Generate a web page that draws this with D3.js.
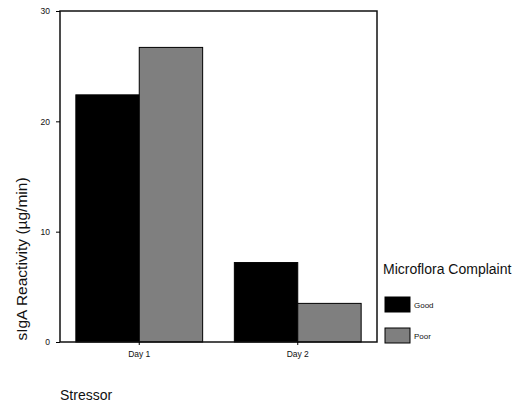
<!DOCTYPE html>
<html>
<head>
<meta charset="utf-8">
<script src="https://cdnjs.cloudflare.com/ajax/libs/d3/7.8.5/d3.min.js"></script>
<style>
  body { margin: 0; background: #fff; }
  text { font-family: Arial, "Liberation Sans", sans-serif; fill: #111; }
</style>
</head>
<body>
<div id="chart"></div>
<script>
var days = ["Day 1", "Day 2"];
var groups = ["Good", "Poor"];
var goodValues = [22.4, 7.2];
var poorValues = [26.7, 3.5];
var yTicks = [0, 10, 20, 30];
var colors = ["#000000", "#7f7f7f"];

var width = 528;
var height = 404;
var margin = { top: 11, left: 60, bottom: 62, right: 151 };

var svg = d3.select('#chart')
            .append('svg')
            .attr('width', width)
            .attr('height', height);

var x = d3.scaleBand()
          .domain(days)
          .range([margin.left, width - margin.right])
          .paddingInner(0.2)
          .paddingOuter(0.1);

var xSub = d3.scaleBand()
             .domain(groups)
             .range([0, x.bandwidth()]);

var y = d3.scaleLinear()
          .domain([0, 30])
          .range([height - margin.bottom, margin.top]);

var rows = days.map(function (d, i) {
    return { day: d, values: [goodValues[i], poorValues[i]] };
});

svg.selectAll('.day')
    .data(rows)
    .enter()
    .append('g')
    .attr('transform', function (d) { return 'translate(' + x(d.day) + ',0)'; })
    .selectAll('rect')
    .data(function (d) { return d.values.map(function (v, j) { return { g: groups[j], v: v, c: colors[j] }; }); })
    .enter()
    .append('rect')
    .attr('x', function (d) { return xSub(d.g); })
    .attr('y', function (d) { return y(d.v); })
    .attr('width', xSub.bandwidth())
    .attr('height', function (d) { return y(0) - y(d.v); })
    .attr('fill', function (d) { return d.c; })
    .attr('stroke', '#000')
    .attr('stroke-width', 1);

// frame
svg.append('rect')
    .attr('x', margin.left)
    .attr('y', margin.top)
    .attr('width', width - margin.right - margin.left)
    .attr('height', height - margin.bottom - margin.top)
    .attr('fill', 'none')
    .attr('stroke', '#111')
    .attr('stroke-width', 1.5);

var yAxis = svg.append('g')
    .attr('transform', 'translate(' + margin.left + ',0)')
    .call(d3.axisLeft(y).tickValues(yTicks).tickSize(4).tickPadding(6));
yAxis.select('.domain').remove();
yAxis.selectAll('text').style('font-size', '8.5px');

var xAxis = svg.append('g')
    .attr('transform', 'translate(0,' + (height - margin.bottom) + ')')
    .call(d3.axisBottom(x).tickSize(3).tickPadding(6));
xAxis.select('.domain').remove();
xAxis.selectAll('text').style('font-size', '8.5px');

svg.append('text')
    .attr('transform', 'translate(27,259) rotate(-90)')
    .style('text-anchor', 'middle')
    .style('font-size', '15.5px')
    .text('sIgA Reactivity (µg/min)');

svg.append('text')
    .attr('x', 60)
    .attr('y', 400)
    .style('font-size', '14px')
    .text('Stressor');

// legend
svg.append('text')
    .attr('x', 383)
    .attr('y', 274)
    .style('font-size', '14px')
    .text('Microflora Complaint');

var legend = svg.selectAll('.legend')
    .data(groups)
    .enter()
    .append('g')
    .attr('transform', function (d, i) { return 'translate(385,' + (297 + i * 31) + ')'; });

legend.append('rect')
    .attr('width', 25)
    .attr('height', 15)
    .attr('fill', function (d, i) { return colors[i]; })
    .attr('stroke', '#000');

legend.append('text')
    .attr('x', 29)
    .attr('y', 11)
    .style('font-size', '8px')
    .text(function (d) { return d; });
</script>
</body>
</html>
